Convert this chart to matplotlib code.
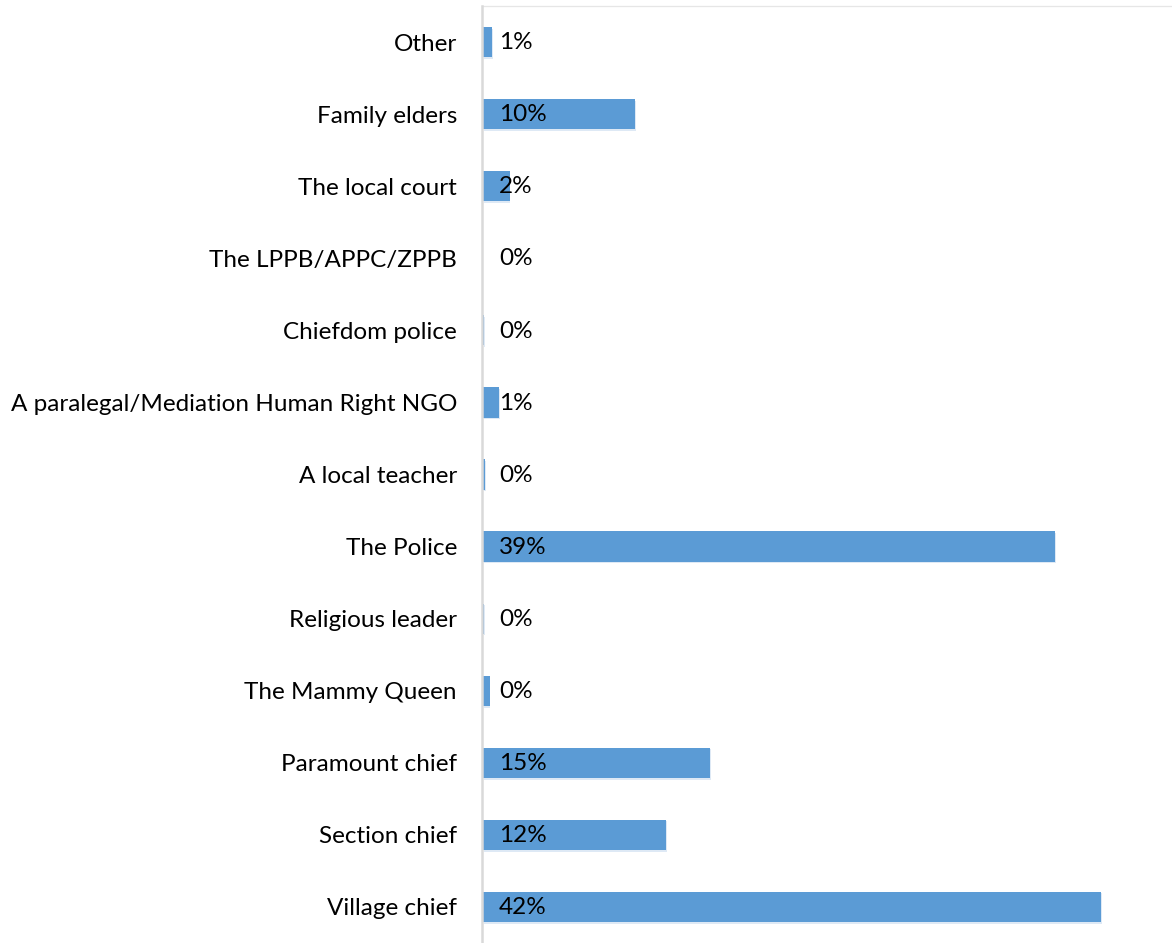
import matplotlib.pyplot as plt
from matplotlib import patheffects

# Who people turn to (share of respondents, %)
categories = [
    "Village chief",
    "Section chief",
    "Paramount chief",
    "The Mammy Queen",
    "Religious leader",
    "The Police",
    "A local teacher",
    "A paralegal/Mediation Human Right NGO",
    "Chiefdom police",
    "The LPPB/APPC/ZPPB",
    "The local court",
    "Family elders",
    "Other",
]
values = [41.9, 12.4, 15.4, 0.45, 0.07, 38.8, 0.14, 1.1, 0.07, 0.0, 1.8, 10.3, 0.6]

BAR_COLOR = "#5b9bd5"
FONT = "Lato"
FS = 17.5

W, H, DPI = 1172, 943, 100
fig = plt.figure(figsize=(W / DPI, H / DPI), dpi=DPI)
left_px, right_px, top_px, bottom_px = 482, 1172, 6, 943
ax = fig.add_axes([left_px / W, 1 - bottom_px / H,
                   (right_px - left_px) / W, (bottom_px - top_px) / H])

y = list(range(len(categories)))
bars = ax.barh(y, values, height=0.42, color=BAR_COLOR, zorder=2)
for b in bars:
    b.set_path_effects([
        patheffects.SimplePatchShadow(offset=(0.6, -1.2), shadow_rgbFace="#b7cfeb", alpha=0.45),
        patheffects.Normal(),
    ])

px_per_unit = 14.75
ax.set_xlim(-1 / px_per_unit, (right_px - left_px - 1) / px_per_unit)
ax.set_ylim(-0.5, len(categories) - 0.5)

ax.set_yticks(y)
ax.set_yticklabels(categories, fontsize=FS, family=FONT, color="#000000")
ax.tick_params(axis="y", length=0, pad=18)
ax.set_xticks([])

for s in ("right", "bottom"):
    ax.spines[s].set_visible(False)
ax.spines["top"].set_color("#e6e6e6")
ax.spines["top"].set_linewidth(0.9)
ax.spines["left"].set_color("#d9d9d9")
ax.spines["left"].set_linewidth(1.8)
ax.spines["left"].set_zorder(3)

for yi, v in zip(y, values):
    ax.annotate(f"{v:.0f}%", xy=(0, yi), xytext=(11.5, -0.5), textcoords="offset points",
                ha="left", va="center", fontsize=FS, family=FONT, color="#000000", zorder=4)

fig.savefig("out.png", dpi=DPI, facecolor="white")
